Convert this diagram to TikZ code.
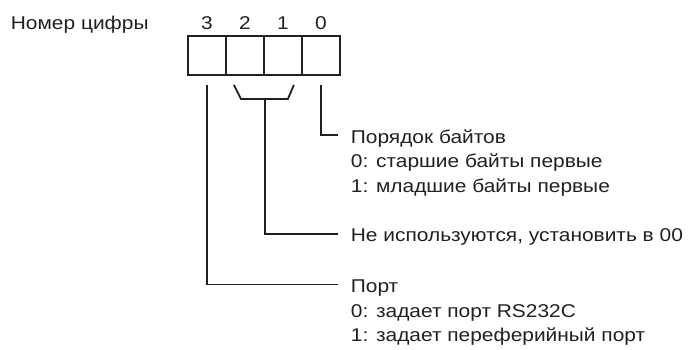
\documentclass[tikz,border=0pt]{standalone}
\usepackage{fontspec}
\setmainfont{Liberation Sans}[FakeStretch=1.13]
\definecolor{ink}{HTML}{231F20}
\begin{document}
\begin{tikzpicture}[x=1pt,y=-1pt,line width=1.8pt,
  cell/.style={draw=ink,minimum width=38pt,minimum height=39pt,inner sep=0pt},
  txt/.style={inner sep=0pt,anchor=base west,text=ink,font=\fontsize{18.5}{24}\selectfont},
  dig/.style={inner sep=0pt,anchor=base,text=ink,font=\fontsize{18.5}{24}\selectfont},
  conn/.style={draw=ink,line width=1.8pt}]
\useasboundingbox (0,0) rectangle (693,349);
% title
\node[txt] (title) at (10,29.5) {Номер цифры};
% digit labels
\node[dig] (d3) at (207,29) {3};
\node[dig] (d2) at (245,29) {2};
\node[dig] (d1) at (283,29) {1};
\node[dig] (d0) at (321,29) {0};
% cells
\node[cell] (c3) at (207,55.5) {};
\node[cell] (c2) at (245,55.5) {};
\node[cell] (c1) at (283,55.5) {};
\node[cell] (c0) at (321,55.5) {};
% texts
\node[txt] (b0) at (350,143) {Порядок байтов};
\node[txt] (b1) at (350,167.5) {0: старшие байты первые};
\node[txt] (b2) at (350,192) {1: младшие байты первые};
\node[txt] (u0) at (350,241.5) {Не используются, установить в 00};
\node[txt] (p0) at (350,292.5) {Порт};
\node[txt] (p1) at (350,317) {0: задает порт RS232C};
\node[txt] (p2) at (350,341.5) {1: задает переферийный порт};
% connectors
\draw[conn] ([yshift=-9pt]c0.south) |- ([xshift=-12pt,yshift=8pt]b0.base west);
\draw[conn] ([shift={(-31pt,-9pt)}]c2.south east) -- ++(7,14) -- ++(47,0) -- ++(6,-14);
\draw[conn] ([yshift=-23pt]c2.south east) |- ([xshift=-12pt,yshift=7.5pt]u0.base west);
\draw[conn] ([yshift=-9pt]c3.south) |- ([xshift=-12pt,yshift=8pt]p0.base west);
\end{tikzpicture}
\end{document}
